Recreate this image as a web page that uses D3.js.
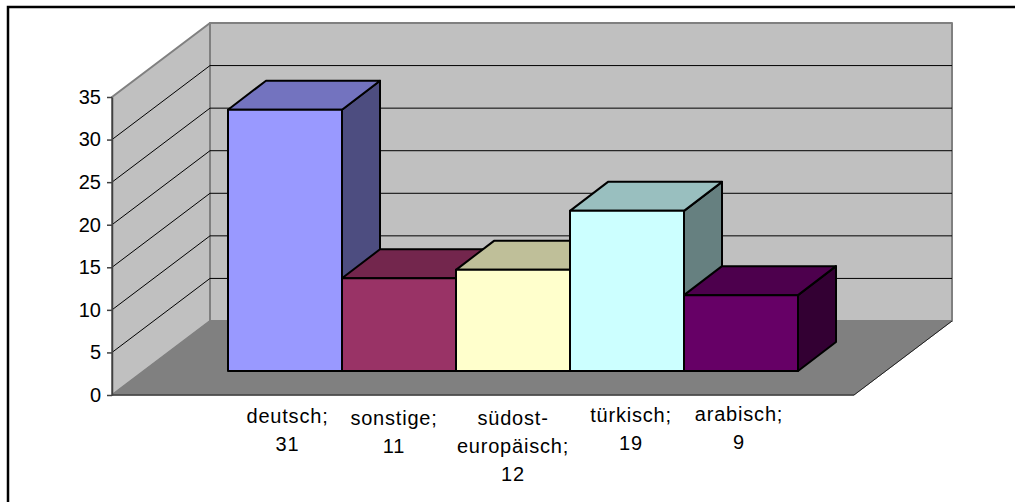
<!DOCTYPE html>
<html>
<head>
<meta charset="utf-8">
<script src="https://cdnjs.cloudflare.com/ajax/libs/d3/7.8.5/d3.min.js"></script>
<style>
    html, body { margin: 0; padding: 0; background: #fff; }
    svg { display: block; }
    text { font-family: "Liberation Sans", Arial, sans-serif; font-size: 20px; fill: #000; }
    .cat-label { letter-spacing: 0.8px; }
</style>
</head>
<body>
<div id="chart"></div>
<script>
'use strict'

// data
const categories = ['deutsch', 'sonstige', 'südost-europäisch', 'türkisch', 'arabisch']
const values = [31, 11, 12, 19, 9]
const yTicks = [0, 5, 10, 15, 20, 25, 30, 35]
const labelLines = [['deutsch;', '31'], ['sonstige;', '11'], ['südost-', 'europäisch;', '12'], ['türkisch;', '19'], ['arabisch;', '9']]
const frontColors = ['#9999ff', '#993366', '#ffffcc', '#ccffff', '#660066']
const topColors = ['#7373bf', '#73264d', '#bfbf99', '#99bfbf', '#4d004d']
const sideColors = ['#4d4d80', '#4d1a33', '#808066', '#668080', '#330033']

const width = 1015, height = 502

const svg = d3.select('#chart').append('svg')
    .attr('width', width)
    .attr('height', height)

// frame, only top and left are visible
svg.append('path')
    .attr('d', 'M8,502V7H1015')
    .attr('fill', 'none')
    .attr('stroke', '#000')
    .attr('stroke-width', 2.5)

////////////////////////////////////
//////////// scales ////////////////
////////////////////////////////////
const yFront = d3.scaleLinear().domain([0, 35]).range([395, 97])
const yBar = d3.scaleLinear().domain([0, 35]).range([371, 76])
const x = d3.scaleBand().domain(categories).range([228, 798])

// depth of the floor / the bars
const wallDx = 98, wallDy = -74
const barDx = 38, barDy = -29
const floorLeft = 112, floorRight = 854

const line = d3.line()
const poly = (pts, fill, stroke, sw) => svg.append('path')
    .attr('d', line(pts) + 'Z')
    .attr('fill', fill)
    .attr('stroke', stroke)
    .attr('stroke-width', sw)
    .attr('stroke-linejoin', 'round')

////////////////////////////////////
//////////// walls /////////////////
////////////////////////////////////
const y0 = yFront(0), yTop = yFront(35)
// back wall
poly([[floorLeft + wallDx, yTop + wallDy], [floorRight + wallDx, yTop + wallDy], [floorRight + wallDx, y0 + wallDy], [floorLeft + wallDx, y0 + wallDy]], '#c0c0c0', '#808080', 2)
// side wall
poly([[floorLeft, yTop], [floorLeft + wallDx, yTop + wallDy], [floorLeft + wallDx, y0 + wallDy], [floorLeft, y0]], '#c0c0c0', '#808080', 2)
// floor
poly([[floorLeft, y0], [floorLeft + wallDx, y0 + wallDy], [floorRight + wallDx, y0 + wallDy], [floorRight, y0]], '#808080', '#808080', 1)

// gridlines
yTicks.slice(1, -1).forEach(t => {
    svg.append('path')
        .attr('d', line([[floorLeft, yFront(t)], [floorLeft + wallDx, yFront(t) + wallDy], [floorRight + wallDx, yFront(t) + wallDy]]))
        .attr('fill', 'none')
        .attr('stroke', '#000')
        .attr('stroke-width', 1)
})

// floor edges
svg.append('path')
    .attr('d', line([[floorLeft, y0], [floorRight, y0]]))
    .attr('fill', 'none')
    .attr('stroke', '#404040')
    .attr('stroke-width', 1.5)
svg.append('path')
    .attr('d', line([[floorRight, y0], [floorRight + wallDx, y0 + wallDy]]))
    .attr('fill', 'none')
    .attr('stroke', '#202020')
    .attr('stroke-width', 1)

////////////////////////////////////
//////////// axis //////////////////
////////////////////////////////////
const axis = svg.append('g')
    .attr('transform', `translate(${floorLeft},0)`)
    .call(d3.axisLeft(yFront).tickValues(yTicks).tickSize(5).tickPadding(6).tickSizeOuter(0))
axis.selectAll('path, line').attr('stroke', '#404040').attr('stroke-width', 1.5)

////////////////////////////////////
//////////// bars //////////////////
////////////////////////////////////
categories.forEach((c, i) => {
    const x0 = x(c), x1 = x0 + x.bandwidth()
    const top = yBar(values[i]), base = yBar(0)
    poly([[x1, top], [x1 + barDx, top + barDy], [x1 + barDx, base + barDy], [x1, base]], sideColors[i], '#000', 2)
    poly([[x0, top], [x0 + barDx, top + barDy], [x1 + barDx, top + barDy], [x1, top]], topColors[i], '#000', 2)
    poly([[x0, top], [x1, top], [x1, base], [x0, base]], frontColors[i], '#000', 2)
})

////////////////////////////////////
//////////// labels ////////////////
////////////////////////////////////
const labelX = [287.5, 394, 513, 631, 739]
const labelY = [423, 425, 425, 422, 421]
labelLines.forEach((lines, i) => {
    const t = svg.append('text').attr('class', 'cat-label').attr('text-anchor', 'middle')
    lines.forEach((l, j) => {
        t.append('tspan').attr('x', labelX[i]).attr('y', labelY[i] + j * 28).text(l)
    })
})
</script>
</body>
</html>
